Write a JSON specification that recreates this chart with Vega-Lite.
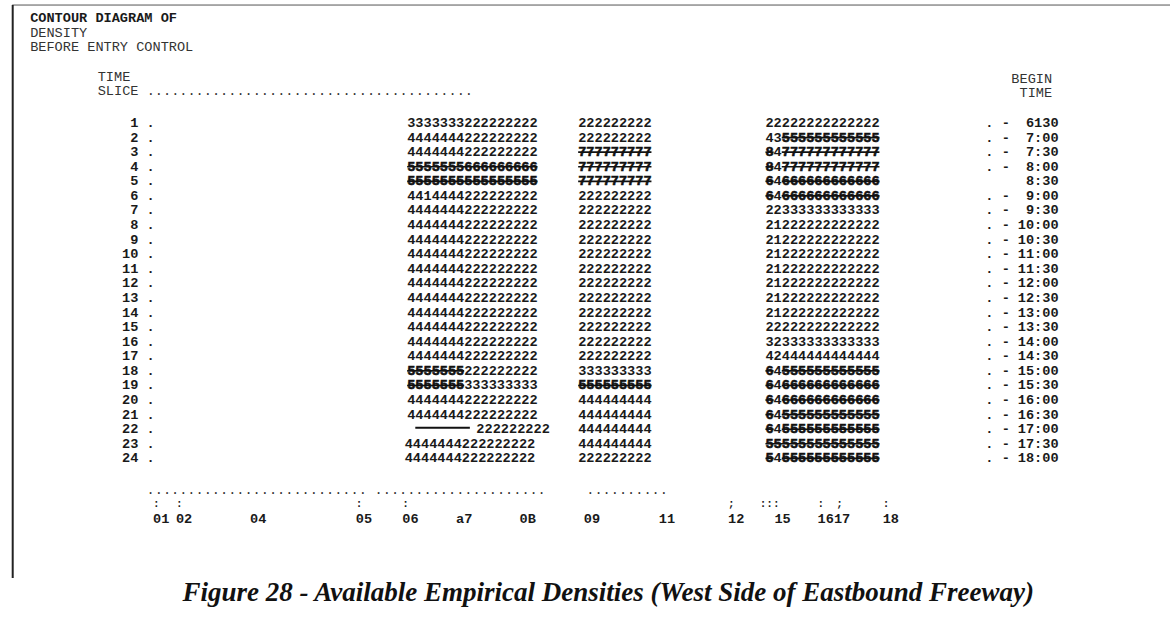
{
  "$schema": "https://vega.github.io/schema/vega-lite/v6.json",
  "width": 1171,
  "height": 623,
  "autosize": {"type": "fit", "contains": "padding"},
  "padding": 0,
  "background": "white",
  "config": {"view": {"stroke": null}, "text": {"font": "Liberation Mono", "fontSize": 13.6, "color": "#1a1a1a"}},
  "datasets": {
    "seg": [
      {"slice": 1, "c": 50, "s": "3333333222222222"},
      {"slice": 2, "c": 50, "s": "4444444222222222"},
      {"slice": 3, "c": 50, "s": "4444444222222222"},
      {"slice": 4, "c": 50, "s": "5555555666666666", "k": 1, "e": 66},
      {"slice": 5, "c": 50, "s": "5555555555555555", "k": 1, "e": 66},
      {"slice": 6, "c": 50, "s": "4414444222222222"},
      {"slice": 7, "c": 50, "s": "4444444222222222"},
      {"slice": 8, "c": 50, "s": "4444444222222222"},
      {"slice": 9, "c": 50, "s": "4444444222222222"},
      {"slice": 10, "c": 50, "s": "4444444222222222"},
      {"slice": 11, "c": 50, "s": "4444444222222222"},
      {"slice": 12, "c": 50, "s": "4444444222222222"},
      {"slice": 13, "c": 50, "s": "4444444222222222"},
      {"slice": 14, "c": 50, "s": "4444444222222222"},
      {"slice": 15, "c": 50, "s": "4444444222222222"},
      {"slice": 16, "c": 50, "s": "4444444222222222"},
      {"slice": 17, "c": 50, "s": "4444444222222222"},
      {"slice": 18, "c": 50, "s": "5555555", "k": 1, "e": 57},
      {"slice": 18, "c": 57, "s": "222222222"},
      {"slice": 19, "c": 50, "s": "5555555", "k": 1, "e": 57},
      {"slice": 19, "c": 57, "s": "333333333"},
      {"slice": 20, "c": 50, "s": "4444444222222222"},
      {"slice": 21, "c": 50, "s": "4444444222222222"},
      {"slice": 22, "c": 58.5, "s": "222222222"},
      {"slice": 23, "c": 49.7, "s": "4444444222222222"},
      {"slice": 24, "c": 49.7, "s": "4444444222222222"},

      {"slice": 1, "c": 71, "s": "222222222"},
      {"slice": 2, "c": 71, "s": "222222222"},
      {"slice": 3, "c": 71, "s": "777777777", "k": 1, "e": 80},
      {"slice": 4, "c": 71, "s": "777777777", "k": 1, "e": 80},
      {"slice": 5, "c": 71, "s": "777777777", "k": 1, "e": 80},
      {"slice": 6, "c": 71, "s": "222222222"},
      {"slice": 7, "c": 71, "s": "222222222"},
      {"slice": 8, "c": 71, "s": "222222222"},
      {"slice": 9, "c": 71, "s": "222222222"},
      {"slice": 10, "c": 71, "s": "222222222"},
      {"slice": 11, "c": 71, "s": "222222222"},
      {"slice": 12, "c": 71, "s": "222222222"},
      {"slice": 13, "c": 71, "s": "222222222"},
      {"slice": 14, "c": 71, "s": "222222222"},
      {"slice": 15, "c": 71, "s": "222222222"},
      {"slice": 16, "c": 71, "s": "222222222"},
      {"slice": 17, "c": 71, "s": "222222222"},
      {"slice": 18, "c": 71, "s": "333333333"},
      {"slice": 19, "c": 71, "s": "555555555", "k": 1, "e": 80},
      {"slice": 20, "c": 71, "s": "444444444"},
      {"slice": 21, "c": 71, "s": "444444444"},
      {"slice": 22, "c": 71, "s": "444444444"},
      {"slice": 23, "c": 71, "s": "444444444"},
      {"slice": 24, "c": 71, "s": "222222222"},

      {"slice": 1, "c": 94, "s": "22222222222222"},
      {"slice": 2, "c": 94, "s": "43"},
      {"slice": 2, "c": 96, "s": "555555555555", "k": 1, "e": 108},
      {"slice": 3, "c": 94, "s": "8", "k": 1, "e": 95},
      {"slice": 3, "c": 95, "s": "4"},
      {"slice": 3, "c": 96, "s": "777777777777", "k": 1, "e": 108},
      {"slice": 4, "c": 94, "s": "8", "k": 1, "e": 95},
      {"slice": 4, "c": 95, "s": "4"},
      {"slice": 4, "c": 96, "s": "777777777777", "k": 1, "e": 108},
      {"slice": 5, "c": 94, "s": "6", "k": 1, "e": 95},
      {"slice": 5, "c": 95, "s": "4"},
      {"slice": 5, "c": 96, "s": "666666666666", "k": 1, "e": 108},
      {"slice": 6, "c": 94, "s": "6", "k": 1, "e": 95},
      {"slice": 6, "c": 95, "s": "4"},
      {"slice": 6, "c": 96, "s": "666666666666", "k": 1, "e": 108},
      {"slice": 7, "c": 94, "s": "22333333333333"},
      {"slice": 8, "c": 94, "s": "21222222222222"},
      {"slice": 9, "c": 94, "s": "21222222222222"},
      {"slice": 10, "c": 94, "s": "21222222222222"},
      {"slice": 11, "c": 94, "s": "21222222222222"},
      {"slice": 12, "c": 94, "s": "21222222222222"},
      {"slice": 13, "c": 94, "s": "21222222222222"},
      {"slice": 14, "c": 94, "s": "21222222222222"},
      {"slice": 15, "c": 94, "s": "22222222222222"},
      {"slice": 16, "c": 94, "s": "32333333333333"},
      {"slice": 17, "c": 94, "s": "42444444444444"},
      {"slice": 18, "c": 94, "s": "6", "k": 1, "e": 95},
      {"slice": 18, "c": 95, "s": "4"},
      {"slice": 18, "c": 96, "s": "555555555555", "k": 1, "e": 108},
      {"slice": 19, "c": 94, "s": "6", "k": 1, "e": 95},
      {"slice": 19, "c": 95, "s": "4"},
      {"slice": 19, "c": 96, "s": "666666666666", "k": 1, "e": 108},
      {"slice": 20, "c": 94, "s": "6", "k": 1, "e": 95},
      {"slice": 20, "c": 95, "s": "4"},
      {"slice": 20, "c": 96, "s": "666666666666", "k": 1, "e": 108},
      {"slice": 21, "c": 94, "s": "6", "k": 1, "e": 95},
      {"slice": 21, "c": 95, "s": "4"},
      {"slice": 21, "c": 96, "s": "555555555555", "k": 1, "e": 108},
      {"slice": 22, "c": 94, "s": "6", "k": 1, "e": 95},
      {"slice": 22, "c": 95, "s": "4"},
      {"slice": 22, "c": 96, "s": "555555555555", "k": 1, "e": 108},
      {"slice": 23, "c": 94, "s": "55555555555555", "k": 1, "e": 108},
      {"slice": 24, "c": 94, "s": "5", "k": 1, "e": 95},
      {"slice": 24, "c": 95, "s": "4"},
      {"slice": 24, "c": 96, "s": "555555555555", "k": 1, "e": 108}
    ],
    "times": [
      {"slice": 1, "p": ". -", "t": "6130"},
      {"slice": 2, "p": ". -", "t": "7:00"},
      {"slice": 3, "p": ". -", "t": "7:30"},
      {"slice": 4, "p": ". -", "t": "8:00"},
      {"slice": 5, "p": "", "t": "8:30"},
      {"slice": 6, "p": ". -", "t": "9:00"},
      {"slice": 7, "p": ". -", "t": "9:30"},
      {"slice": 8, "p": ". -", "t": "10:00"},
      {"slice": 9, "p": ". -", "t": "10:30"},
      {"slice": 10, "p": ". -", "t": "11:00"},
      {"slice": 11, "p": ". -", "t": "11:30"},
      {"slice": 12, "p": ". -", "t": "12:00"},
      {"slice": 13, "p": ". -", "t": "12:30"},
      {"slice": 14, "p": ". -", "t": "13:00"},
      {"slice": 15, "p": ". -", "t": "13:30"},
      {"slice": 16, "p": ". -", "t": "14:00"},
      {"slice": 17, "p": ". -", "t": "14:30"},
      {"slice": 18, "p": ". -", "t": "15:00"},
      {"slice": 19, "p": ". -", "t": "15:30"},
      {"slice": 20, "p": ". -", "t": "16:00"},
      {"slice": 21, "p": ". -", "t": "16:30"},
      {"slice": 22, "p": ". -", "t": "17:00"},
      {"slice": 23, "p": ". -", "t": "17:30"},
      {"slice": 24, "p": ". -", "t": "18:00"}
    ],
    "hdr": [
      {"slice": -6.2, "c": 3.7, "s": "CONTOUR DIAGRAM OF", "b": 1},
      {"slice": -5.2, "c": 3.7, "s": "DENSITY"},
      {"slice": -4.2, "c": 3.7, "s": "BEFORE ENTRY CONTROL"},
      {"slice": -2.15, "c": 12, "s": "TIME"},
      {"slice": -1.2, "c": 12, "s": "SLICE ........................................"},
      {"slice": -2.0, "c": 124.2, "s": "BEGIN"},
      {"slice": -1.05, "c": 125.2, "s": "TIME"},
      {"slice": 26.17, "c": 18, "s": "..........................."},
      {"slice": 26.17, "c": 46, "s": "...................."},
      {"slice": 26.17, "c": 66, "s": "."},
      {"slice": 26.17, "c": 72, "s": ".........."}
    ],
    "stations": [
      {"c": 18.8, "m": ":", "lab": "01"},
      {"c": 21.6, "m": ":", "lab": "02"},
      {"c": 30.7, "m": "", "lab": "04"},
      {"c": 43.7, "m": ":", "lab": "05"},
      {"c": 49.4, "m": ":", "lab": "06"},
      {"c": 56.0, "m": "", "lab": "a7"},
      {"c": 63.8, "m": "", "lab": "0B"},
      {"c": 71.7, "m": "", "lab": "09"},
      {"c": 80.9, "m": "", "lab": "11"},
      {"c": 89.4, "m": ";", "lab": "12"},
      {"c": 93.3, "m": ":::", "lab": ""},
      {"c": 95.1, "m": "", "lab": "15"},
      {"c": 100.4, "m": ":", "lab": "1617"},
      {"c": 102.7, "m": ";", "lab": ""},
      {"c": 108.4, "m": ":", "lab": "18"}
    ],
    "one": [{}]
  },
  "layer": [
    {
      "data": {"name": "seg"},
      "transform": [{"filter": "datum.k != 1"}],
      "mark": {"type": "text", "align": "left", "baseline": "middle", "fontWeight": "bold"},
      "encoding": {
        "x": {"field": "c", "type": "quantitative", "scale": {"domain": [0, 143.68], "nice": false, "zero": false}, "axis": null},
        "y": {"field": "slice", "type": "quantitative", "scale": {"domain": [-7.436, 35.29], "nice": false, "zero": false, "reverse": true}, "axis": null},
        "text": {"field": "s"}
      }
    },
    {
      "data": {"name": "seg"},
      "transform": [{"filter": "datum.k == 1"}],
      "mark": {"type": "text", "align": "left", "baseline": "middle", "fontWeight": "bold", "stroke": "#111", "strokeWidth": 0.6, "color": "#111"},
      "encoding": {
        "x": {"field": "c", "type": "quantitative", "scale": {"domain": [0, 143.68], "nice": false, "zero": false}, "axis": null},
        "y": {"field": "slice", "type": "quantitative", "scale": {"domain": [-7.436, 35.29], "nice": false, "zero": false, "reverse": true}, "axis": null},
        "text": {"field": "s"}
      }
    },
    {
      "data": {"name": "seg"},
      "transform": [{"filter": "datum.k == 1"}],
      "mark": {"type": "rule", "color": "#111", "strokeWidth": 1.6},
      "encoding": {
        "x": {"field": "c", "type": "quantitative", "scale": {"domain": [0, 143.68], "nice": false, "zero": false}, "axis": null},
        "x2": {"field": "e"},
        "y": {"field": "slice", "type": "quantitative", "scale": {"domain": [-7.436, 35.29], "nice": false, "zero": false, "reverse": true}, "axis": null}
      }
    },
    {
      "data": {"name": "one"},
      "mark": {"type": "rule", "color": "#111", "strokeWidth": 2.2},
      "encoding": {
        "x": {"datum": 51, "type": "quantitative", "scale": {"domain": [0, 143.68], "nice": false, "zero": false}, "axis": null},
        "x2": {"datum": 57.7},
        "y": {"datum": 21.9, "type": "quantitative", "scale": {"domain": [-7.436, 35.29], "nice": false, "zero": false, "reverse": true}, "axis": null}
      }
    },
    {
      "data": {"name": "times"},
      "mark": {"type": "text", "align": "right", "baseline": "middle", "fontWeight": "bold"},
      "encoding": {
        "x": {"datum": 17, "type": "quantitative", "scale": {"domain": [0, 143.68], "nice": false, "zero": false}, "axis": null},
        "y": {"field": "slice", "type": "quantitative", "scale": {"domain": [-7.436, 35.29], "nice": false, "zero": false, "reverse": true}, "axis": null},
        "text": {"field": "slice", "type": "quantitative"}
      }
    },
    {
      "data": {"name": "times"},
      "mark": {"type": "text", "align": "left", "baseline": "middle", "fontWeight": "bold"},
      "encoding": {
        "x": {"datum": 18, "type": "quantitative", "scale": {"domain": [0, 143.68], "nice": false, "zero": false}, "axis": null},
        "y": {"field": "slice", "type": "quantitative", "scale": {"domain": [-7.436, 35.29], "nice": false, "zero": false, "reverse": true}, "axis": null},
        "text": {"value": "."}
      }
    },
    {
      "data": {"name": "times"},
      "mark": {"type": "text", "align": "left", "baseline": "middle", "fontWeight": "bold"},
      "encoding": {
        "x": {"datum": 121, "type": "quantitative", "scale": {"domain": [0, 143.68], "nice": false, "zero": false}, "axis": null},
        "y": {"field": "slice", "type": "quantitative", "scale": {"domain": [-7.436, 35.29], "nice": false, "zero": false, "reverse": true}, "axis": null},
        "text": {"field": "p"}
      }
    },
    {
      "data": {"name": "times"},
      "mark": {"type": "text", "align": "right", "baseline": "middle", "fontWeight": "bold"},
      "encoding": {
        "x": {"datum": 130, "type": "quantitative", "scale": {"domain": [0, 143.68], "nice": false, "zero": false}, "axis": null},
        "y": {"field": "slice", "type": "quantitative", "scale": {"domain": [-7.436, 35.29], "nice": false, "zero": false, "reverse": true}, "axis": null},
        "text": {"field": "t"}
      }
    },
    {
      "data": {"name": "hdr"},
      "transform": [{"filter": "datum.b != 1"}],
      "mark": {"type": "text", "align": "left", "baseline": "middle", "color": "#333"},
      "encoding": {
        "x": {"field": "c", "type": "quantitative", "scale": {"domain": [0, 143.68], "nice": false, "zero": false}, "axis": null},
        "y": {"field": "slice", "type": "quantitative", "scale": {"domain": [-7.436, 35.29], "nice": false, "zero": false, "reverse": true}, "axis": null},
        "text": {"field": "s"}
      }
    },
    {
      "data": {"name": "hdr"},
      "transform": [{"filter": "datum.b == 1"}],
      "mark": {"type": "text", "align": "left", "baseline": "middle", "fontWeight": "bold"},
      "encoding": {
        "x": {"field": "c", "type": "quantitative", "scale": {"domain": [0, 143.68], "nice": false, "zero": false}, "axis": null},
        "y": {"field": "slice", "type": "quantitative", "scale": {"domain": [-7.436, 35.29], "nice": false, "zero": false, "reverse": true}, "axis": null},
        "text": {"field": "s"}
      }
    },
    {
      "data": {"name": "stations"},
      "mark": {"type": "text", "align": "left", "baseline": "middle", "fontWeight": "bold", "fontSize": 11},
      "encoding": {
        "x": {"field": "c", "type": "quantitative", "scale": {"domain": [0, 143.68], "nice": false, "zero": false}, "axis": null},
        "y": {"datum": 27.13, "type": "quantitative", "scale": {"domain": [-7.436, 35.29], "nice": false, "zero": false, "reverse": true}, "axis": null},
        "text": {"field": "m"}
      }
    },
    {
      "data": {"name": "stations"},
      "mark": {"type": "text", "align": "left", "baseline": "middle", "fontWeight": "bold"},
      "encoding": {
        "x": {"field": "c", "type": "quantitative", "scale": {"domain": [0, 143.68], "nice": false, "zero": false}, "axis": null},
        "y": {"datum": 28.16, "type": "quantitative", "scale": {"domain": [-7.436, 35.29], "nice": false, "zero": false, "reverse": true}, "axis": null},
        "text": {"field": "lab"}
      }
    },
    {
      "data": {"name": "one"},
      "mark": {"type": "text", "align": "center", "baseline": "middle", "font": "Liberation Serif", "fontStyle": "italic", "fontWeight": "bold", "fontSize": 27, "color": "#111"},
      "encoding": {
        "x": {"datum": 74.7, "type": "quantitative", "scale": {"domain": [0, 143.68], "nice": false, "zero": false}, "axis": null},
        "y": {"datum": 33.2, "type": "quantitative", "scale": {"domain": [-7.436, 35.29], "nice": false, "zero": false, "reverse": true}, "axis": null},
        "text": {"value": "Figure 28 - Available Empirical Densities (West Side of Eastbound Freeway)"}
      }
    },
    {
      "data": {"name": "one"},
      "mark": {"type": "rule", "color": "#555", "strokeWidth": 1},
      "encoding": {
        "x": {"datum": 1.5, "type": "quantitative", "scale": {"domain": [0, 143.68], "nice": false, "zero": false}, "axis": null},
        "x2": {"datum": 143.68},
        "y": {"datum": -7.09, "type": "quantitative", "scale": {"domain": [-7.436, 35.29], "nice": false, "zero": false, "reverse": true}, "axis": null}
      }
    },
    {
      "data": {"name": "one"},
      "mark": {"type": "rule", "color": "#222", "strokeWidth": 2},
      "encoding": {
        "x": {"datum": 1.56, "type": "quantitative", "scale": {"domain": [0, 143.68], "nice": false, "zero": false}, "axis": null},
        "y": {"datum": -7.09, "type": "quantitative", "scale": {"domain": [-7.436, 35.29], "nice": false, "zero": false, "reverse": true}, "axis": null},
        "y2": {"datum": 32.2}
      }
    }
  ]
}
